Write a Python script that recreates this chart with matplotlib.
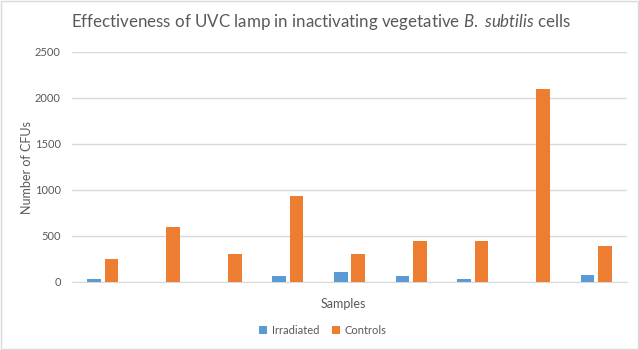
import matplotlib
matplotlib.use("Agg")
import matplotlib.pyplot as plt
import numpy as np

plt.rcParams['font.family'] = ['Lato', 'DejaVu Sans']
plt.rcParams['mathtext.fontset'] = 'custom'
plt.rcParams['mathtext.rm'] = 'Lato'
plt.rcParams['mathtext.it'] = 'Lato:italic'

samples = np.arange(1, 10)
irradiated = [28, 5, 5, 70, 112, 60, 28, 5, 80]
controls = [245, 600, 300, 940, 300, 450, 450, 2100, 395]
yticks = [0, 500, 1000, 1500, 2000, 2500]

blue = '#5B9BD5'
orange = '#ED7D31'
text_grey = '#595959'

fig = plt.figure(figsize=(6.39, 3.5), dpi=100)
# plot area in pixels: x 72..627, y 52..282
ax = fig.add_axes([72 / 639, 1 - 282 / 350, 555 / 639, 230 / 350])

x = np.arange(len(samples))
w = 0.22
ax.bar(x - 0.141, irradiated, width=w, color=blue, label='Irradiated', zorder=3)
ax.bar(x + 0.141, controls, width=w, color=orange, label='Controls', zorder=3)

ax.set_xlim(-0.5, len(samples) - 0.5)
ax.set_ylim(0, 2500)
ax.set_yticks(yticks)
ax.set_yticklabels([str(v) for v in yticks], fontsize=8, color=text_grey)
ax.set_xticks([])
ax.tick_params(axis='y', length=0, pad=8)
ax.grid(axis='y', color='#D9D9D9', linewidth=1, zorder=0)
for s in ['top', 'right', 'left']:
    ax.spines[s].set_visible(False)
ax.spines['bottom'].set_color('#D9D9D9')

fig.text(343 / 639, 1 - 304 / 350, 'Samples', ha='center', va='center',
         fontsize=9, color=text_grey)
fig.text(27 / 639, 1 - 168 / 350, 'Number of CFUs', ha='center', va='center',
         rotation=90, fontsize=9, color=text_grey)

fig.text(321 / 639, 1 - 22 / 350,
         r'Effectiveness of UVC lamp in inactivating vegetative $\it{B.\ subtilis}$ cells',
         ha='center', va='center', fontsize=12.2, color=text_grey)

fig.legend(loc='center', bbox_to_anchor=(323 / 639, 1 - 330 / 350), ncol=2,
           frameon=False, fontsize=8, labelcolor=text_grey, handlelength=0.7,
           handleheight=0.7, columnspacing=1.2, handletextpad=0.4)

fig.patches.append(plt.Rectangle((0.001, 0.002), 0.997, 0.996, transform=fig.transFigure,
                                 fill=False, edgecolor='#D9D9D9', linewidth=1))

fig.savefig('out.png', dpi=100)
